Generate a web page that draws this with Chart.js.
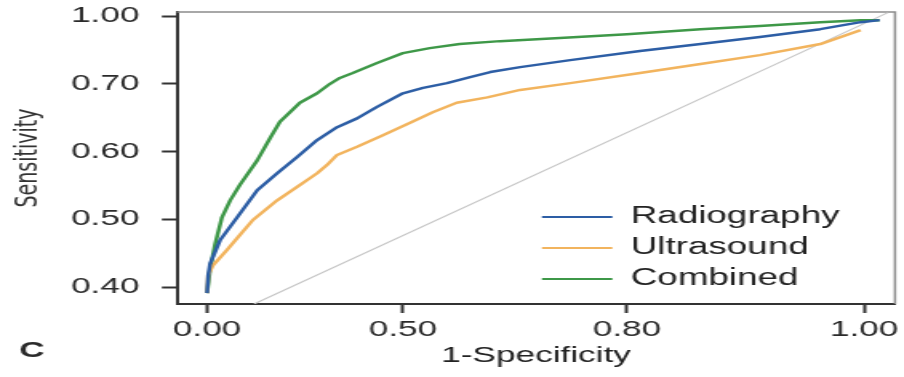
<!DOCTYPE html>
<html>
<head>
<meta charset="utf-8">
<script src="https://cdn.jsdelivr.net/npm/chart.js@4/dist/chart.umd.min.js"></script>
<style>
  html, body { margin: 0; padding: 0; background: #fff; }
  canvas { display: block; }
</style>
</head>
<body>
<!-- drawn narrow and stretched sideways, like the wide lettering of the original figure -->
<canvas id="roc" width="565" height="377" style="width:904px;height:377px"></canvas>
<script>
// tick labels (the original axes are not evenly scaled)
const xTickValues = [0, 0.5, 0.8, 1.0];
const xTickLabels = ['0.00', '0.50', '0.80', '1.00'];
const yTickValues = [0.4, 0.5, 0.6, 0.7, 1.0];
const yTickLabels = ['0.40', '0.50', '0.60', '0.70', '1.00'];

const seriesNames = ['Radiography', 'Ultrasound', 'Combined'];

// ROC curves (1-specificity, sensitivity)
const radiographyFpr = [0.000, 0.003, 0.008, 0.033, 0.077, 0.128, 0.179, 0.230, 0.281, 0.332, 0.383, 0.434, 0.500,
  0.527, 0.559, 0.590, 0.617, 0.657, 0.724, 0.811, 0.862, 0.912, 0.963, 0.997, 1.013];
const radiographyTpr = [0.391, 0.418, 0.435, 0.469, 0.503, 0.543, 0.568, 0.592, 0.617, 0.636, 0.649, 0.666, 0.686,
  0.694, 0.703, 0.730, 0.752, 0.774, 0.805, 0.845, 0.876, 0.907, 0.942, 0.973, 0.982];

const ultrasoundFpr = [0.000, 0.003, 0.015, 0.051, 0.084, 0.117, 0.179, 0.230, 0.281, 0.306, 0.332, 0.383, 0.449,
  0.509, 0.540, 0.572, 0.613, 0.657, 0.724, 0.811, 0.862, 0.912, 0.963, 0.997];
const ultrasoundTpr = [0.391, 0.418, 0.432, 0.455, 0.477, 0.499, 0.528, 0.548, 0.568, 0.580, 0.595, 0.607, 0.624,
  0.642, 0.658, 0.672, 0.680, 0.691, 0.703, 0.748, 0.788, 0.827, 0.876, 0.938];

const combinedFpr = [0.000, 0.008, 0.020, 0.038, 0.059, 0.084, 0.128, 0.161, 0.186, 0.217, 0.237, 0.281, 0.314,
  0.339, 0.372, 0.434, 0.500, 0.536, 0.576, 0.630, 0.710, 0.800, 0.862, 0.912, 0.963, 0.997, 1.013];
const combinedTpr = [0.391, 0.428, 0.462, 0.503, 0.528, 0.551, 0.587, 0.620, 0.644, 0.661, 0.672, 0.686, 0.700,
  0.726, 0.748, 0.792, 0.836, 0.858, 0.876, 0.889, 0.903, 0.920, 0.942, 0.956, 0.973, 0.982, 0.982];

// chance line ends
const chanceFpr = [0.12, 1.02];
const chanceTpr = [0.375, 1.015];

// where each tick value sits along its axis (relative units)
const warps = {
  x: { values: xTickValues, slots: [0, 0.298, 0.639, 1] },
  y: { values: yTickValues, slots: [0, 1, 2, 3, 4] },
};

function toSlot(w, v) {
  const vs = w.values, ss = w.slots;
  let i = 1;
  while (i < vs.length - 1 && v > vs[i]) i++;
  const t = (v - vs[i - 1]) / (vs[i] - vs[i - 1]);
  return ss[i - 1] + t * (ss[i] - ss[i - 1]);
}

function fromSlot(w, s) {
  const vs = w.values, ss = w.slots;
  let i = 1;
  while (i < ss.length - 1 && s > ss[i]) i++;
  const t = (s - ss[i - 1]) / (ss[i] - ss[i - 1]);
  return vs[i - 1] + t * (vs[i] - vs[i - 1]);
}

// linear scale whose spacing changes between the labelled ticks
class WarpScale extends Chart.LinearScale {
  static id = 'warp';
  static defaults = Chart.LinearScale.defaults;

  getPixelForValue(value) {
    if (value === null || value === undefined) return NaN;
    const w = warps[this.id];
    const s0 = toSlot(w, this.min), s1 = toSlot(w, this.max);
    return this.getPixelForDecimal((toSlot(w, value) - s0) / (s1 - s0));
  }

  getValueForPixel(pixel) {
    const w = warps[this.id];
    const s0 = toSlot(w, this.min), s1 = toSlot(w, this.max);
    return fromSlot(w, s0 + this.getDecimalForPixel(pixel) * (s1 - s0));
  }
}
Chart.register(WarpScale);

const pts = (xs, ys) => xs.map((x, i) => ({ x, y: ys[i] }));

const curve = (label, xs, ys, color) => ({
  label,
  data: pts(xs, ys),
  borderColor: color,
  backgroundColor: color,
  borderWidth: 2.5,
  borderJoinStyle: 'round',
  pointRadius: 0,
  tension: 0,
  fill: false,
});

const frame = {
  id: 'frame',
  afterLayout(chart) {
    // legend sits in the lower right of the plot
    const lg = chart.legend;
    lg.left = 330.75;
    lg.top = 197.5;
    lg.right = chart.width;
    lg.bottom = chart.height;
  },
  beforeDatasetsDraw(chart) {
    const { ctx, chartArea: a } = chart;
    ctx.save();
    ctx.strokeStyle = '#8c8c8c';
    ctx.lineWidth = 1.5;
    ctx.beginPath();
    ctx.moveTo(a.left, a.top);
    ctx.lineTo(a.right, a.top);
    ctx.lineTo(a.right, a.bottom);
    ctx.stroke();
    ctx.restore();
  },
  afterDraw(chart) {
    const ctx = chart.ctx;
    ctx.save();
    ctx.fillStyle = '#2a2a2a';
    ctx.font = 'bold 22px "Liberation Sans", Arial, sans-serif';
    ctx.textAlign = 'center';
    ctx.textBaseline = 'middle';
    ctx.fillText('C', 20, 351);
    ctx.restore();
  },
};

const tickFont = { family: '"Liberation Sans", Arial, sans-serif', size: 22 };

new Chart(document.getElementById('roc'), {
  type: 'line',
  data: {
    datasets: [
      curve(seriesNames[0], radiographyFpr, radiographyTpr, '#2d5ea5'),
      curve(seriesNames[1], ultrasoundFpr, ultrasoundTpr, '#f2b45e'),
      curve(seriesNames[2], combinedFpr, combinedTpr, '#3e9848'),
      {
        label: 'chance',
        data: pts(chanceFpr, chanceTpr),
        borderColor: '#c4c4c4',
        borderWidth: 1.1,
        pointRadius: 0,
        fill: false,
      },
    ],
  },
  options: {
    responsive: false,
    animation: false,
    events: [],
    layout: { padding: { top: 12, right: 5.6, left: 0, bottom: 0 } },
    plugins: {
      legend: {
        position: 'chartArea',
        align: 'start',
        labels: {
          font: { family: '"Liberation Sans", Arial, sans-serif', size: 23 },
          color: '#222',
          boxWidth: 44,
          boxHeight: 2,
          padding: 8,
          filter: (item) => item.datasetIndex < 3,
          generateLabels: (chart) =>
            Chart.defaults.plugins.legend.labels.generateLabels(chart)
              .map((l) => ({ ...l, fillStyle: l.strokeStyle, lineWidth: 0 })),
        },
      },
      tooltip: { enabled: false },
    },
    scales: {
      x: {
        type: 'warp',
        bounds: 'data',
        min: -0.077,
        max: 1.026,
        afterBuildTicks: (s) => { s.ticks = xTickValues.map((v) => ({ value: v })); },
        afterFit: (s) => { s.height = 73; s.paddingLeft = 0; s.paddingRight = 0; },
        ticks: {
          autoSkip: false,
          maxRotation: 0,
          padding: 4,
          color: '#2a2a2a',
          font: tickFont,
          callback: (v, i) => xTickLabels[i],
        },
        grid: { drawOnChartArea: false, tickLength: 9, tickColor: '#333', tickWidth: 2 },
        border: { display: true, color: '#333', width: 2 },
        title: {
          display: true,
          text: '1-Specificity',
          color: '#222',
          font: { family: '"Liberation Sans", Arial, sans-serif', size: 22 },
          padding: { top: 0, bottom: 8 },
        },
      },
      y: {
        type: 'warp',
        bounds: 'data',
        min: 0.375,
        max: 1.018,
        afterBuildTicks: (s) => { s.ticks = yTickValues.map((v) => ({ value: v })); },
        afterFit: (s) => { s.width = 110.6; s.paddingTop = 0; s.paddingBottom = 0; },
        ticks: {
          autoSkip: false,
          padding: 14,
          color: '#2a2a2a',
          font: tickFont,
          callback: (v, i) => yTickLabels[i],
        },
        grid: { drawOnChartArea: false, tickLength: 9.4, tickColor: '#333', tickWidth: 2 },
        border: { display: true, color: '#333', width: 2 },
        title: {
          display: true,
          text: 'Sensitivity',
          color: '#333',
          font: { family: '"DejaVu Sans", sans-serif', size: 19 },
          padding: { top: 7, bottom: 0 },
        },
      },
    },
  },
  plugins: [frame],
});
</script>
</body>
</html>
